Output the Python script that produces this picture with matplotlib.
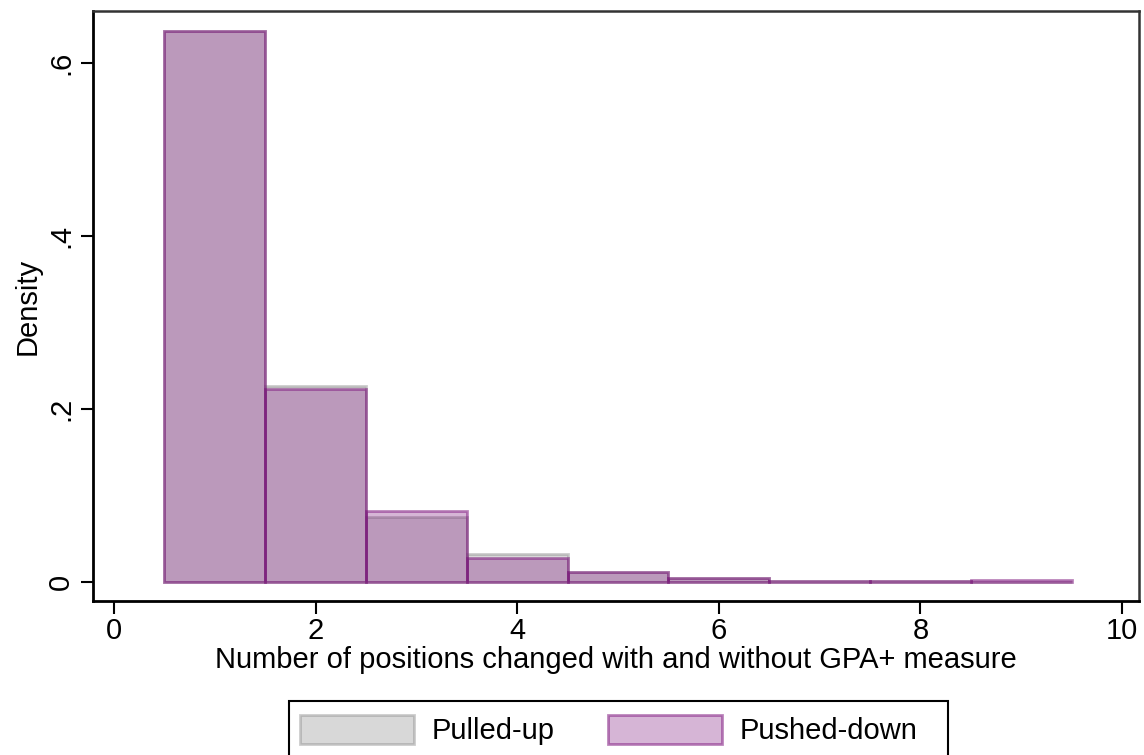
import matplotlib
matplotlib.use("Agg")
import matplotlib.pyplot as plt
from matplotlib.patches import Rectangle

plt.rcParams['font.family'] = ['Liberation Sans', 'DejaVu Sans']

# Histogram of positions changed (discrete bins of width 1)
positions = [1, 2, 3, 4, 5, 6, 7, 8, 9]
pulled_up = [0.637, 0.227, 0.0755, 0.032, 0.011, 0.005, 0.0015, 0.001, 0.0005]
pushed_down = [0.637, 0.223, 0.082, 0.028, 0.012, 0.0048, 0.0015, 0.0015, 0.002]

x_ticks = [0, 2, 4, 6, 8, 10]
y_ticks = [0, 0.2, 0.4, 0.6]
y_tick_labels = ["0", ".2", ".4", ".6"]

W, H = 1144, 755
fig = plt.figure(figsize=(W / 100, H / 100), dpi=100)
ax = fig.add_axes([93 / W, 1 - 601 / H, (1139 - 93) / W, 590 / H])

gray_face = (0.5, 0.5, 0.5, 0.3)
gray_edge = (0.5, 0.5, 0.5, 0.4)
purple_face = (0.47, 0.04, 0.47, 0.3)
purple_edge = (0.47, 0.04, 0.47, 0.5)

ax.bar(positions, pulled_up, width=1.0, facecolor=gray_face,
       edgecolor=gray_edge, linewidth=2.0, label="Pulled-up", zorder=2)
ax.bar(positions, pushed_down, width=1.0, facecolor=purple_face,
       edgecolor=purple_edge, linewidth=2.0, label="Pushed-down", zorder=3)

ax.set_xlim(-21 / 100.8, 10 + 17 / 100.8)
ax.set_ylim(-19 / 865, 571 / 865)

ax.set_xticks(x_ticks)
ax.set_xticklabels([str(t) for t in x_ticks])
ax.set_yticks(y_ticks)
ax.set_yticklabels(y_tick_labels, rotation=90, va="center")

ax.tick_params(axis="both", direction="out", length=9, width=1.5,
               labelsize=21, colors="black")
ax.tick_params(axis="x", pad=2.5)
ax.tick_params(axis="y", pad=4)
ax.set_xlabel("Number of positions changed with and without GPA+ measure",
              fontsize=21, labelpad=1)
ax.set_ylabel("Density", fontsize=21, labelpad=4)

for side in ("left", "bottom"):
    ax.spines[side].set_color("black")
    ax.spines[side].set_linewidth(2)
for side in ("top", "right"):
    ax.spines[side].set_color("#333333")
    ax.spines[side].set_linewidth(1.8)

# Legend entries without frame; the box is drawn separately and runs off the bottom edge
leg = fig.legend(loc="upper left", bbox_to_anchor=(300 / W, 1 - 715 / H),
                 ncol=2, fontsize=21, frameon=False,
                 handlelength=3.9, handleheight=1.15,
                 handletextpad=0.6, columnspacing=1.85, borderpad=0,
                 borderaxespad=0)
fig.add_artist(Rectangle((289 / W, -0.05), (948 - 289) / W, 0.05 + (755 - 701) / H,
                         transform=fig.transFigure, fill=False,
                         edgecolor="black", linewidth=1.5))

fig.savefig("out.png", dpi=100)
